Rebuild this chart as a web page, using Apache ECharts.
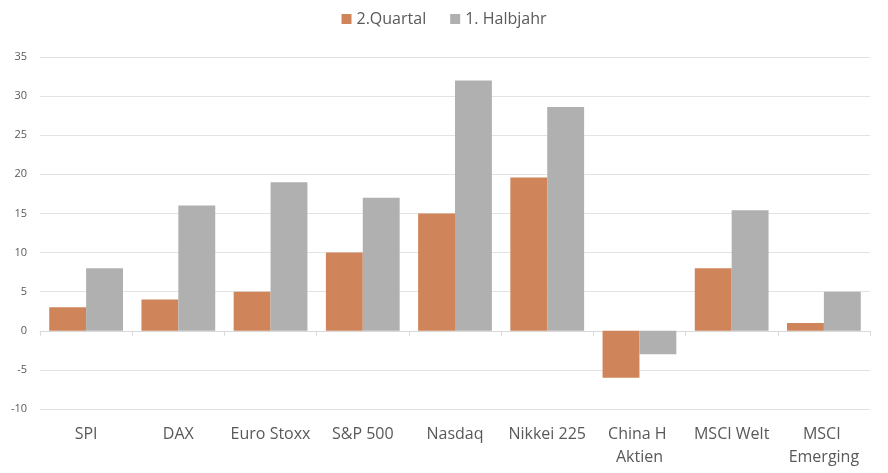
<!DOCTYPE html>
<html>
<head>
<meta charset="utf-8">
<script src="https://cdn.jsdelivr.net/npm/echarts@6/dist/echarts.min.js"></script>
<style>
  html, body { margin: 0; padding: 0; background: #fff; }
  #chart { width: 888px; height: 473px; }
</style>
</head>
<body>
<div id="chart"></div>
<script>
// Kategorien und Werte (in %)
const categories = ['SPI', 'DAX', 'Euro Stoxx', 'S&P 500', 'Nasdaq', 'Nikkei 225', 'China H Aktien', 'MSCI Welt', 'MSCI Emerging']
const quartal = [3, 4, 5, 10, 15, 19.6, -6, 8, 1]
const halbjahr = [8, 16, 19, 17, 32, 28.6, -3, 15.4, 5]
const seriesNames = ['2.Quartal', '1. Halbjahr']

const font = '"Open Sans", "Liberation Sans", sans-serif'
const chart = echarts.init(document.getElementById('chart'))

const option = {
  animation: false,
  color: ['#D0845A', '#B0B0B0'],
  textStyle: { fontFamily: font },
  legend: {
    top: 6,
    left: 'center',
    itemWidth: 10,
    itemHeight: 10,
    itemGap: 24,
    icon: 'rect',
    textStyle: { fontSize: 16, color: '#595959', fontFamily: font },
    data: seriesNames
  },
  grid: { left: 40, right: 18, top: 57, bottom: 64 },
  xAxis: [
    {
      type: 'category',
      data: categories,
      axisLine: { onZero: true, lineStyle: { color: '#D9D9D9' } },
      axisTick: { show: true, interval: 0, length: 5, lineStyle: { color: '#D9D9D9' } },
      axisLabel: { show: false }
    },
    {
      type: 'category',
      data: categories,
      position: 'bottom',
      axisLine: { show: false, onZero: false },
      axisTick: { show: false },
      axisLabel: {
        interval: 0,
        margin: 14,
        fontSize: 16,
        color: '#595959',
        lineHeight: 23,
        width: 88,
        overflow: 'break',
        fontFamily: font
      }
    }
  ],
  yAxis: {
    type: 'value',
    min: -10,
    max: 35,
    interval: 5,
    axisLine: { show: false },
    axisTick: { show: false },
    splitLine: { lineStyle: { color: '#E3E3E3', width: 1 } },
    axisLabel: { fontSize: 11, color: '#595959', margin: 13, fontFamily: font }
  },
  series: [
    {
      name: seriesNames[0],
      type: 'bar',
      data: quartal,
      barGap: '0%',
      barCategoryGap: '20%'
    },
    {
      name: seriesNames[1],
      type: 'bar',
      data: halbjahr,
      barGap: '0%',
      barCategoryGap: '20%'
    }
  ]
}

chart.setOption(option)
</script>
</body>
</html>
